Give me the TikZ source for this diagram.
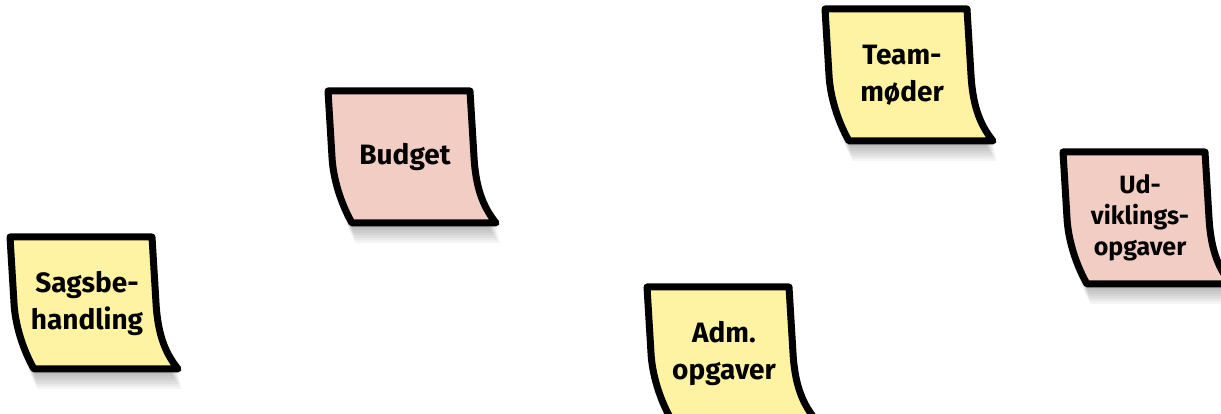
\documentclass[tikz,border=0pt]{standalone}
\usepackage{fontspec}
\setmainfont{Fira Sans}
\usetikzlibrary{backgrounds}

\definecolor{noteyellow}{RGB}{254,243,162}
\definecolor{notepink}{RGB}{241,205,196}

% outline of one sticky note, around its centre
\def\notesheet{(-77,66) -- (65,66) -- (69,0) .. controls (71,-35) and (80,-52) .. (91,-66) -- (-53,-66) .. controls (-65,-45) and (-72,-20) .. (-73,0) -- cycle}

\begin{document}
\begin{tikzpicture}[
  x=1pt,y=1pt,
  note/.style={align=center,inner sep=0pt,font=\bfseries\fontsize{28}{37}\selectfont},
  noteedge/.style={draw=black,line width=7pt,line join=round},
  noteshadow/.style={fill=black,opacity=0.045}
]
\clip (0,0) rectangle (1221,414);

% ===== Notes =====
\node[note] (sag) at (87,111) {Sagsbe-\\handling};
\node[note] (bud) at (405,257) {Budget};
\node[note] (adm) at (724,61) {Adm.\\opgaver};
\node[note] (team) at (902,339) {Team-\\møder};
\node[note,font=\bfseries\fontsize{25}{31}\selectfont] (udv) at (1140,196) {Ud-\\viklings-\\opgaver};

% ===== Paper =====
\begin{scope}[on background layer]
  \foreach \n/\c in {sag/noteyellow,bud/notepink,adm/noteyellow,team/noteyellow,udv/notepink}{
    \begin{scope}[shift={(\n.center)}]
      \foreach \s in {1,...,8}
        \fill[noteshadow,shift={(0.5*\s,-2.5*\s)}] \notesheet;
      \filldraw[noteedge,fill=\c] \notesheet;
    \end{scope}
  }
\end{scope}

\end{tikzpicture}
\end{document}
